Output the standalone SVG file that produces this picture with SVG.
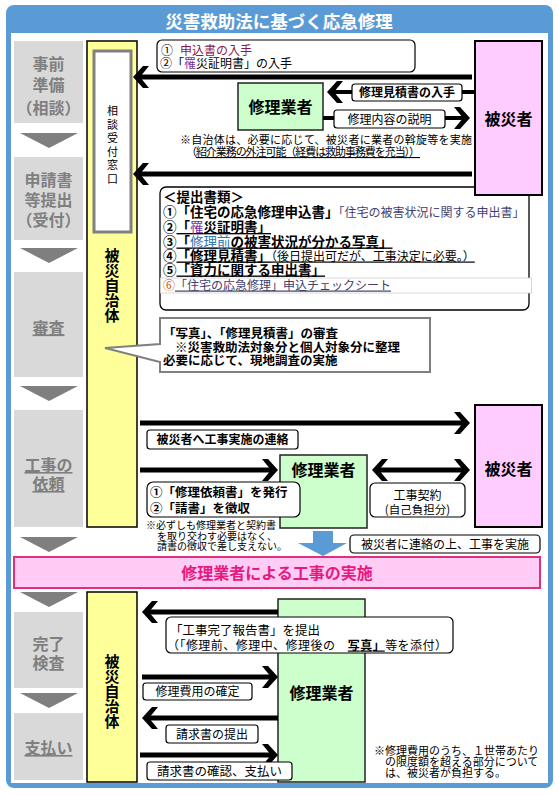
<svg xmlns="http://www.w3.org/2000/svg" width="559" height="796" viewBox="0 0 559 796" font-family="'Noto Sans CJK JP', 'Noto Sans', sans-serif">
<defs>
<style>
.stage{fill:#D9D9D9}
.st{font-size:16px;font-weight:bold;fill:#7F7F7F;text-anchor:middle}
.u{text-decoration:underline}
.tri{fill:#7F7F7F}
.ylw{fill:#FFFF99;stroke:#000;stroke-width:1.5}
.grn{fill:#CCFFCC;stroke:#222;stroke-width:1.5}
.pnk{fill:#FFCCFF;stroke:#000;stroke-width:2}
.lbl{fill:#fff;stroke:#000;stroke-width:1.2}
.ln{fill:none;stroke:#000;stroke-width:5}
.ln4{fill:none;stroke:#000;stroke-width:4}
.b{font-weight:bold}
.c{text-anchor:middle}
.big{font-size:16px;font-weight:bold;text-anchor:middle}
.vt{font-size:15px;font-weight:bold;text-anchor:middle}
.s12{font-size:12px}
.s13{font-size:13px}
.s14{font-size:13.5px}
.s11{font-size:11px}
</style>
<marker id="ah" viewBox="-16 -12 18 24" refX="-4" refY="0" markerWidth="18" markerHeight="24" markerUnits="userSpaceOnUse" orient="auto-start-reverse">
<polygon points="-15,-11 -9,-11 1,0 -9,11 -15,11 -6,0" fill="#000"/>
</marker>
</defs>

<!-- frame -->
<g id="frame">
<rect x="6" y="5" width="547" height="783" rx="8" fill="#5B9BD5"/>
<rect x="11" y="33" width="537" height="750" fill="#fff"/>
<text x="279" y="28" class="c b" font-size="17.5" fill="#fff">災害救助法に基づく応急修理</text>
</g>

<!-- stages -->
<g id="stage-jizen"><rect class="stage" x="14" y="41" width="69" height="82"/>
<text class="st" x="48.5" y="69.5">事前</text><text class="st" x="48.5" y="91">準備</text><text class="st" x="48.5" y="113.5">（相談）</text></g>
<polygon class="tri" points="20,133 78,133 49,148"/>
<g id="stage-shinsei"><rect class="stage" x="14" y="157" width="69" height="83"/>
<text class="st" x="48.5" y="186">申請書</text><text class="st" x="48.5" y="205.5">等提出</text><text class="st" x="48.5" y="225.5">（受付）</text></g>
<polygon class="tri" points="20,248 78,248 49,263"/>
<g id="stage-shinsa"><rect class="stage" x="14" y="272" width="69" height="105"/>
<text class="st u" x="48.5" y="333.5">審査</text></g>
<polygon class="tri" points="20,386 78,386 49,401"/>
<g id="stage-irai"><rect class="stage" x="14" y="410" width="69" height="117"/>
<text class="st u" x="48.5" y="471">工事の</text><text class="st u" x="48.5" y="490">依頼</text></g>
<polygon class="tri" points="20,537 78,537 49,552"/>
<g id="banner"><rect x="14" y="557" width="526" height="31" fill="#FFCCF5" stroke="#E0307A" stroke-width="2"/>
<text x="277" y="578.5" class="c b" font-size="16" fill="#E6197F">修理業者による工事の実施</text></g>
<polygon class="tri" points="20,592 78,592 49,607"/>
<g id="stage-kensa"><rect class="stage" x="14" y="612" width="69" height="76"/>
<text class="st" x="48.5" y="650">完了</text><text class="st" x="48.5" y="669">検査</text></g>
<polygon class="tri" points="20,693 78,693 49,708"/>
<g id="stage-shiharai"><rect class="stage" x="14" y="713" width="69" height="67"/>
<text class="st u" x="48.5" y="754">支払い</text></g>

<!-- municipality columns -->
<g id="jichitai-top">
<rect class="ylw" x="87" y="41" width="50" height="486"/>
<rect x="94" y="51" width="37" height="181" fill="#fff" stroke="#808080" stroke-width="3"/>
<text class="c s11" x="112.5"><tspan x="112.5" y="115">相</tspan><tspan x="112.5" y="128.5">談</tspan><tspan x="112.5" y="142">受</tspan><tspan x="112.5" y="155.5">付</tspan><tspan x="112.5" y="169">窓</tspan><tspan x="112.5" y="182.5">口</tspan></text>
<text class="vt"><tspan x="112" y="260.5">被</tspan><tspan x="112" y="275.5">災</tspan><tspan x="112" y="290.5">自</tspan><tspan x="112" y="305.5">治</tspan><tspan x="112" y="320.5">体</tspan></text>
</g>
<g id="jichitai-bottom">
<rect class="ylw" x="87" y="592" width="50" height="190"/>
<text class="vt"><tspan x="112" y="667">被</tspan><tspan x="112" y="682">災</tspan><tspan x="112" y="697">自</tspan><tspan x="112" y="712">治</tspan><tspan x="112" y="727">体</tspan></text>
</g>

<!-- submission documents box (behind victim box) -->
<g id="docs">
<rect x="160" y="187" width="369" height="123" rx="6" fill="#fff" stroke="#000" stroke-width="1.3"/>
</g>

<!-- victims -->
<g id="hisaisha-top"><rect class="pnk" x="475" y="41" width="67" height="154"/>
<text class="big" x="508.5" y="125" font-size="16.5">被災者</text></g>
<g id="hisaisha-mid"><rect class="pnk" x="475" y="405" width="67" height="122"/>
<text class="big" x="508.5" y="475" font-size="16.5">被災者</text></g>

<!-- contractors -->
<g id="gyosha-top"><rect class="grn" x="238" y="83" width="85" height="47"/>
<text class="big" x="280.5" y="113">修理業者</text></g>
<g id="gyosha-mid"><rect class="grn" x="280" y="455" width="87" height="73"/>
<text class="big" x="323.5" y="476">修理業者</text></g>
<g id="gyosha-bottom"><rect class="grn" x="278" y="599" width="87" height="183"/>
<text class="big" x="321.5" y="699">修理業者</text></g>

<!-- connectors -->
<g id="connectors">
<path class="ln" d="M472 77H138" marker-end="url(#ah)"/>
<path class="ln" d="M472 174H138" marker-end="url(#ah)"/>
<path class="ln4" d="M475 92H332" marker-end="url(#ah)"/>
<path class="ln4" d="M323 118H465" marker-end="url(#ah)"/>
<path class="ln" d="M140 423H465" marker-end="url(#ah)"/>
<path class="ln" d="M140 470H273" marker-end="url(#ah)"/>
<path class="ln" d="M377 470H465" marker-start="url(#ah)" marker-end="url(#ah)"/>
<path class="ln" d="M278 612H147" marker-end="url(#ah)"/>
<path class="ln" d="M142 677H273" marker-end="url(#ah)"/>
<path class="ln" d="M278 718H147" marker-end="url(#ah)"/>
<path class="ln" d="M140 755H273" marker-end="url(#ah)"/>
<polygon points="313,531 333,531 333,543 347,543 323,556 298,543 313,543" fill="#5B9BD5"/>
</g>

<!-- labels and notes -->
<g id="label-nyushu">
<rect class="lbl" x="157" y="40" width="258" height="32" rx="5"/>
<text class="s12" x="161" y="54.5">①<tspan x="180" fill="#8B1A4A">申込書の入手</tspan></text>
<text class="s12" x="160" y="67.5">②「<tspan fill="#7030A0">罹</tspan>災証明書」の入手</text>
</g>
<g id="label-mitsumori">
<rect class="lbl" x="352" y="84" width="110" height="17" rx="3"/>
<text class="s12 b c" x="407" y="97">修理見積書の入手</text>
</g>
<g id="label-setsumei">
<rect class="lbl" x="334" y="110" width="111" height="18" rx="3"/>
<text class="s12 c" x="389.5" y="123.5">修理内容の説明</text>
</g>
<g id="note-assen" class="s11">
<text x="180" y="144" textLength="292" lengthAdjust="spacing">※自治体は、必要に応じて、被災者に業者の斡旋等を実施</text>
<text x="186" y="156" textLength="234" lengthAdjust="spacing">（<tspan class="u">紹介業務の外注可能（経費は救助事務費を充当））</tspan></text>
</g>
<g id="docs-text">
<rect x="160.5" y="278" width="371" height="15" fill="#fff" stroke="#CFCFCF" stroke-width="0.8"/>
<text class="s14 b" x="163" y="202">＜提出書類＞</text>
<text x="163" y="217"><tspan class="s14 b">①「住宅の応急修理申込書」</tspan><tspan class="s12" fill="#3F3F6F">「住宅の被害状況に関する申出書」</tspan></text>
<text class="s14 b" x="163" y="232">②<tspan class="u">「<tspan fill="#7030A0" font-weight="normal">罹</tspan>災証明書」</tspan></text>
<text class="s14 b" x="163" y="246.5">③<tspan class="u">「<tspan fill="#2E75B6" font-weight="normal">修理前</tspan>の被害状況が分かる写真」</tspan></text>
<text x="163" y="260.5"><tspan class="s14 b">④</tspan><tspan class="s14 b u">「修理見積書」</tspan><tspan class="s12 u">（後日提出可だが、工事決定に必要。）</tspan></text>
<text class="s14 b" x="163" y="274.5">⑤<tspan class="u">「資力に関する申出書」</tspan></text>
<text class="s12" x="163" y="289.5"><tspan fill="#C55A11">⑥</tspan><tspan class="u" fill="#404070">「住宅の応急修理」申込チェックシート</tspan></text>
</g>
<g id="callout-shinsa">
<path d="M160 318H430V372H160V362L105 348L160 344Z" fill="#fff" stroke="#808080" stroke-width="2"/>
<text class="b" font-size="12.5" x="163" y="338">「写真」、「修理見積書」の審査</text>
<text class="b" font-size="12.5" x="175" y="351.5">※災害救助法対象分と個人対象分に整理</text>
<text class="b" font-size="12.5" x="163" y="365">必要に応じて、現地調査の実施</text>
</g>
<g id="label-renraku">
<rect class="lbl" x="147" y="430" width="151" height="19" rx="3"/>
<text class="s12 b c" x="222.5" y="444">被災者へ工事実施の連絡</text>
</g>
<g id="label-irai">
<rect class="lbl" x="147" y="482" width="153" height="35" rx="6"/>
<text class="b" font-size="12.5" x="150" y="497">①「修理依頼書」を発行</text>
<text class="b" font-size="12.5" x="150" y="512.5">②「請書」を徴収</text>
</g>
<g id="label-keiyaku">
<rect class="lbl" x="370" y="483" width="95" height="34" rx="5"/>
<text class="s12 c" x="417.5" y="500">工事契約</text>
<text class="c" font-size="11.5" x="417.5" y="513.5">(自己負担分)</text>
</g>
<g id="note-ukesho" font-size="10">
<text x="146" y="529">※必ずしも修理業者と契約書</text>
<text x="157" y="539.5">を取り交わす必要はなく、</text>
<text x="157" y="550">請書の徴収で差し支えない。</text>
</g>
<g id="label-jisshi">
<rect class="lbl" x="350" y="535" width="190" height="18" rx="4"/>
<text class="s12 c" x="445" y="548.5">被災者に連絡の上、工事を実施</text>
</g>
<g id="label-kanryo">
<rect class="lbl" x="166" y="617" width="287" height="36" rx="5"/>
<text font-size="12.5" x="170" y="635">「工事完了報告書」を提出</text>
<text class="s12" x="167" y="649.5" textLength="280" lengthAdjust="spacing">（「修理前、修理中、修理後の　<tspan class="b u">写真」</tspan>等を添付）</text>
</g>
<g id="label-kakutei">
<rect class="lbl" x="143" y="683" width="109" height="17" rx="3"/>
<text class="s12 c" x="197.5" y="696">修理費用の確定</text>
</g>
<g id="label-seikyu">
<rect class="lbl" x="166" y="725" width="92" height="18" rx="3"/>
<text class="s12 c" x="212" y="738.5">請求書の提出</text>
</g>
<g id="label-shiharai">
<rect class="lbl" x="147" y="762" width="145" height="18" rx="3"/>
<text font-size="12.5" class="c" x="219.5" y="775.5">請求書の確認、支払い</text>
</g>
<g id="note-gendo" class="s11">
<text x="374" y="755">※修理費用のうち、１世帯あたり</text>
<text x="385" y="766">の限度額を超える部分について</text>
<text x="385" y="777">は、被災者が負担する。</text>
</g>
</svg>
